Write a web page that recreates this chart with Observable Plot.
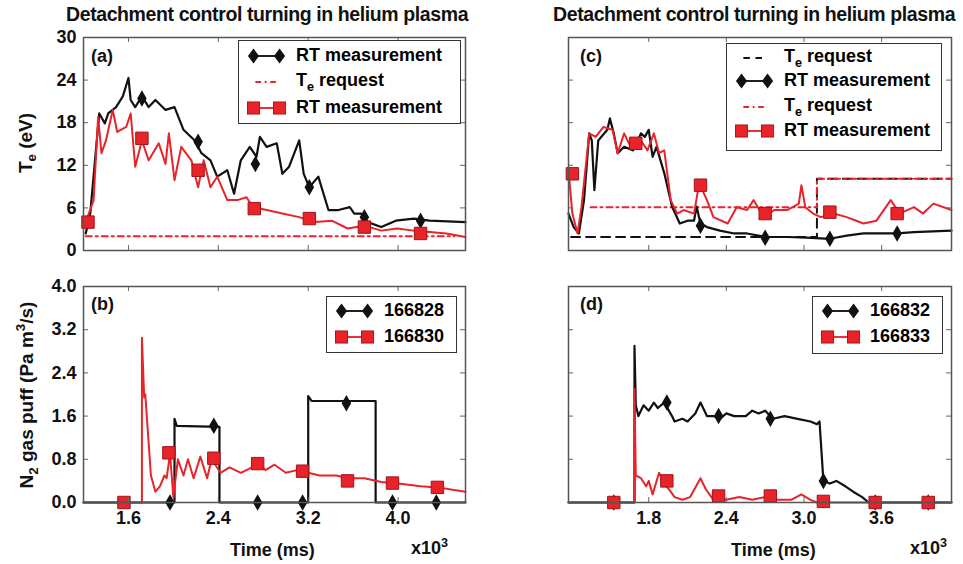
<!DOCTYPE html>
<html><head><meta charset="utf-8">
<script src="https://cdn.jsdelivr.net/npm/d3@7"></script>
<script src="https://cdn.jsdelivr.net/npm/@observablehq/plot@0.6"></script>
<style>
body{margin:0;background:#fff;font-family:"Liberation Sans",Arial,sans-serif;}
#wrap{position:relative;width:963px;height:564px;overflow:hidden;}
.abs{position:absolute;white-space:nowrap;font-weight:bold;color:#111;}
.ttl{font-size:19.5px;letter-spacing:-0.4px;}
.lab{font-size:18px;}
.leg{position:absolute;border:1.5px solid #333;background:#fff;}
.row{position:absolute;display:flex;align-items:center;font-weight:bold;font-size:18px;white-space:nowrap;}
sub,sup{font-size:70%;}
</style></head><body><div id="wrap"></div>
<script>
// ---------- data (time in 10^3 ms) ----------
const aBlack=[[1.22,2.4],[1.26,5.2],[1.34,19.3],[1.39,17.9],[1.42,19.3],[1.49,20.2],[1.55,21.7],[1.6,24.3],[1.62,21.2],[1.66,20.2],[1.72,21.7],[1.78,20.2],[1.84,21.2],[1.93,19.8],[2.01,20.2],[2.09,17.0],[2.19,15.5],[2.25,13.7],[2.33,12.7],[2.39,10.4],[2.48,11.3],[2.54,8.0],[2.6,12.7],[2.68,14.6],[2.74,13.2],[2.77,16.0],[2.83,14.6],[2.92,15.1],[2.97,10.8],[3.03,11.8],[3.12,15.5],[3.16,10.8],[3.21,8.9],[3.29,10.4],[3.38,5.7],[3.47,5.7],[3.57,6.1],[3.61,5.2],[3.67,5.2],[3.73,4.0],[3.85,3.3],[3.98,4.2],[4.14,4.5],[4.28,4.2],[4.6,4.0]];
const aRed=[[1.22,4.0],[1.29,7.1],[1.33,18.8],[1.36,13.7],[1.4,15.5],[1.46,19.8],[1.5,16.7],[1.58,17.4],[1.62,19.3],[1.66,11.8],[1.72,15.5],[1.78,12.7],[1.87,15.1],[1.93,12.2],[1.96,16.5],[2.01,9.9],[2.07,14.6],[2.16,12.7],[2.22,8.9],[2.27,12.7],[2.33,8.9],[2.39,10.4],[2.48,7.1],[2.57,7.1],[2.65,7.5],[2.71,6.1],[2.83,5.7],[2.97,5.2],[3.12,4.7],[3.26,4.0],[3.41,4.2],[3.55,3.1],[3.7,3.5],[3.85,2.8],[3.99,3.1],[4.14,2.8],[4.28,2.6],[4.43,2.4],[4.6,1.9]];
const aBlackMk=[[1.72,21.4],[2.22,15.3],[2.73,12.2],[3.21,8.9],[3.7,4.7],[4.2,4.2]];
const aRedMk=[[1.24,4.0],[1.72,15.8],[2.22,11.3],[2.72,5.9],[3.21,4.5],[3.7,3.3],[4.2,2.4]];
const aReq=[[1.22,2],[4.5,2]];

const bBlack=[[1.2,0],[2.01,0],[2.01,1.55],[2.03,1.42],[2.41,1.4],[2.41,0],[3.2,0],[3.2,1.97],[3.23,1.88],[3.8,1.88],[3.8,0],[4.6,0]];
const bRed=[[1.2,0],[1.72,0],[1.72,3.05],[1.74,1.95],[1.75,2.0],[1.8,0.5],[1.84,0.2],[1.88,0.3],[1.92,0.5],[1.94,0.45],[1.97,0.9],[2.0,0.1],[2.04,0.8],[2.09,0.5],[2.13,0.8],[2.18,0.45],[2.24,0.85],[2.3,0.45],[2.34,0.8],[2.42,0.55],[2.5,0.65],[2.6,0.55],[2.7,0.65],[2.75,0.75],[2.82,0.6],[2.9,0.7],[3.0,0.55],[3.1,0.6],[3.2,0.55],[3.3,0.5],[3.45,0.5],[3.55,0.45],[3.7,0.45],[3.85,0.38],[4.0,0.35],[4.2,0.3],[4.35,0.28],[4.6,0.2]];
const bBlackMk=[[1.97,0],[2.36,1.42],[2.75,0],[3.15,0],[3.54,1.84],[3.95,0],[4.34,0]];
const bRedMk=[[1.56,0],[1.96,0.92],[2.36,0.82],[2.75,0.72],[3.15,0.58],[3.55,0.4],[3.95,0.36],[4.35,0.28]];

const cBlack=[[1.18,5.2],[1.22,3.3],[1.26,2.4],[1.3,7.1],[1.34,16.5],[1.36,15.5],[1.38,8.5],[1.41,15.5],[1.48,17.0],[1.5,18.6],[1.53,16.5],[1.56,13.7],[1.61,14.6],[1.68,14.1],[1.74,16.5],[1.77,16.0],[1.8,17.0],[1.83,13.2],[1.86,14.6],[1.92,10.9],[1.98,6.2],[2.04,3.8],[2.1,4.2],[2.15,4.2],[2.17,6.2],[2.2,3.8],[2.25,3.3],[2.35,2.8],[2.46,2.4],[2.56,2.4],[2.71,1.9],[2.87,1.9],[3.02,1.8],[3.2,1.65],[3.33,2.1],[3.46,2.4],[3.72,2.4],[3.85,2.6],[4.14,2.8]];
const cRed=[[1.18,11.3],[1.21,5.2],[1.25,2.4],[1.28,6.1],[1.34,16.5],[1.39,16.0],[1.45,17.4],[1.52,17.0],[1.56,13.7],[1.61,16.5],[1.66,14.6],[1.74,15.5],[1.79,14.1],[1.84,16.5],[1.88,13.7],[1.92,14.1],[1.97,7.1],[2.02,5.2],[2.07,5.7],[2.15,5.2],[2.19,9.5],[2.25,7.1],[2.3,4.7],[2.41,3.8],[2.48,6.1],[2.56,5.7],[2.61,7.1],[2.69,4.7],[2.77,5.7],[2.87,5.7],[2.96,6.6],[2.98,9.2],[3.01,6.1],[3.07,5.2],[3.13,4.7],[3.23,5.2],[3.33,4.7],[3.46,3.8],[3.56,4.2],[3.67,7.1],[3.74,5.2],[3.85,6.1],[3.92,5.2],[4.0,6.6],[4.14,5.7]];
const cBlackMk=[[2.2,3.5],[2.7,1.8],[3.2,1.65],[3.72,2.4]];
const cRedMk=[[1.21,10.8],[1.7,15.1],[2.2,9.2],[2.7,5.2],[3.2,5.4],[3.72,5.2]];
const cReqBlack=[[1.2,1.9],[3.1,1.9],[3.1,10.1],[4.14,10.1]];
const cReqRed=[[1.35,6.1],[3.1,6.1],[3.1,10.1],[4.14,10.1]];

const dBlack=[[1.18,0],[1.69,0],[1.69,2.9],[1.7,1.8],[1.72,1.6],[1.76,1.8],[1.8,1.7],[1.84,1.85],[1.87,1.75],[1.92,1.85],[1.98,1.6],[2.0,1.5],[2.06,1.55],[2.1,1.5],[2.16,1.65],[2.2,1.85],[2.25,1.6],[2.3,1.6],[2.35,1.55],[2.4,1.65],[2.46,1.6],[2.55,1.6],[2.6,1.7],[2.65,1.65],[2.7,1.7],[2.76,1.55],[2.85,1.6],[2.95,1.55],[3.05,1.5],[3.1,1.45],[3.12,1.5],[3.15,0.4],[3.2,0.35],[3.25,0.4],[3.32,0.3],[3.38,0.2],[3.45,0.1],[3.5,0],[4.14,0]];
const dRed=[[1.18,0],[1.69,0],[1.69,2.1],[1.7,0.5],[1.74,0.45],[1.78,0.3],[1.8,0.4],[1.83,0.15],[1.88,0.55],[1.92,0.35],[1.97,0.2],[2.0,0.1],[2.06,0.05],[2.12,0.1],[2.2,0.45],[2.24,0.25],[2.3,0.05],[2.4,0.05],[2.5,0.1],[2.6,0.05],[2.7,0.1],[2.8,0.05],[2.9,0.05],[2.98,0.15],[3.05,0.05],[3.1,0],[4.14,0]];
const dBlackMk=[[1.53,0],[1.94,1.85],[2.34,1.6],[2.74,1.55],[3.15,0.4],[3.55,0],[3.96,0]];
const dRedMk=[[1.53,0],[1.94,0.4],[2.34,0.12],[2.74,0.12],[3.15,0.02],[3.55,0],[3.96,0]];

const xTicksL=[1.6,2.4,3.2,4.0], xTicksR=[1.8,2.4,3.0,3.6];
const yTicksTe=[0,6,12,18,24,30], yTicksN=[0,0.8,1.6,2.4,3.2,4.0];

const RED="#e8232a", REDD="#a0141a";
const wrap=document.getElementById("wrap");
function place(el,l,t){el.style.position="absolute";el.style.left=l+"px";el.style.top=t+"px";wrap.appendChild(el);}

function panel(o){
  const W=o.width,H=o.height, pw=W-o.ml-o.mr, ph=H-o.mt-o.mb;
  const marks=[];
  (o.req||[]).forEach(r=>marks.push(Plot.line(r.data,{x:"0",y:"1",stroke:r.color,strokeWidth:2,strokeDasharray:r.dash})));
  marks.push(Plot.line(o.black,{x:"0",y:"1",stroke:"#111",strokeWidth:2.2}));
  marks.push(Plot.line(o.red,{x:"0",y:"1",stroke:RED,strokeWidth:2}));
  marks.push(Plot.dot(o.blackMk,{x:"0",y:"1",symbol:"diamond",r:5,fill:"#111"}));
  marks.push(Plot.dot(o.redMk,{x:"0",y:"1",symbol:"square",r:7,fill:RED,stroke:REDD,strokeWidth:1}));
  const tk=5;
  marks.push(Plot.tickX(o.xt,{x:d=>d,stroke:"#666",insetTop:ph-tk}));
  marks.push(Plot.tickX(o.xt,{x:d=>d,stroke:"#666",insetBottom:ph-tk}));
  marks.push(Plot.tickY(o.yt,{y:d=>d,stroke:"#666",insetRight:pw-tk}));
  marks.push(Plot.tickY(o.yt,{y:d=>d,stroke:"#666",insetLeft:pw-tk}));
  if(o.showX) marks.push(Plot.axisX(o.xt,{tickSize:0,tickPadding:9,tickFormat:d3.format(".1f"),fontSize:18,fontWeight:"bold",label:null}));
  if(o.showY) marks.push(Plot.axisY(o.yt,{tickSize:0,tickPadding:7,tickFormat:o.yf,fontSize:18,fontWeight:"bold",label:null}));
  marks.push(Plot.frame({stroke:"#555",strokeWidth:1.5}));
  const p=Plot.plot({width:W,height:H,marginLeft:o.ml,marginRight:o.mr,marginTop:o.mt,marginBottom:o.mb,
    x:{domain:o.xd,axis:null},y:{domain:o.yd,axis:null},style:{background:"transparent",color:"#111",fontFamily:"Liberation Sans, Arial, sans-serif"},marks});
  place(p,o.left,o.top);
}

const yfTe=d3.format("d"), yfN=d3.format(".1f");
panel({left:0,top:0,width:480,height:260,ml:83,mr:15,mt:37,mb:10,xd:[1.2,4.6],yd:[0,30],xt:xTicksL,yt:yTicksTe,yf:yfTe,showY:true,
  black:aBlack,red:aRed,blackMk:aBlackMk,redMk:aRedMk,req:[{data:aReq,color:RED,dash:"6,4,2,4"}]});
panel({left:0,top:260,width:480,height:304,ml:83,mr:15,mt:26,mb:62,xd:[1.2,4.6],yd:[0,4],xt:xTicksL,yt:yTicksN,yf:yfN,showY:true,showX:true,
  black:bBlack,red:bRed,blackMk:bBlackMk,redMk:bRedMk});
panel({left:480,top:0,width:483,height:260,ml:88,mr:12,mt:37,mb:10,xd:[1.18,4.14],yd:[0,30],xt:xTicksR,yt:yTicksTe,
  black:cBlack,red:cRed,blackMk:cBlackMk,redMk:cRedMk,req:[{data:cReqBlack,color:"#111",dash:"9,6"},{data:cReqRed,color:RED,dash:"6,4,2,4"}]});
panel({left:480,top:260,width:483,height:304,ml:88,mr:12,mt:26,mb:62,xd:[1.18,4.14],yd:[0,4],xt:xTicksR,yt:yTicksN,showX:true,
  black:dBlack,red:dRed,blackMk:dBlackMk,redMk:dRedMk});

// ---------- text ----------
function txt(html,cls,l,t,extra){const e=document.createElement("div");e.className="abs "+cls;e.innerHTML=html;if(extra)Object.assign(e.style,extra);place(e,l,t);return e;}
txt("Detachment control turning in helium plasma","ttl",66,3);
txt("Detachment control turning in helium plasma","ttl",553,3);
txt("(a)","lab",91,46);txt("(b)","lab",91,294);txt("(c)","lab",580,46);txt("(d)","lab",580,294);
txt("Time (ms)","lab",230,540);txt("Time (ms)","lab",731,540);
txt("x10<sup>3</sup>","lab",411,536);txt("x10<sup>3</sup>","lab",910,536);
txt("T<sub>e</sub> (eV)","lab",27,143,{transform:"translate(-50%,-50%) rotate(-90deg)",fontSize:"19px"});
txt("N<sub>2</sub> gas puff (Pa m<sup>3</sup>/s)","lab",27,395,{transform:"translate(-50%,-50%) rotate(-90deg)",fontSize:"19px"});

// ---------- legends ----------
function sym(kind){
  const s=(kind==="bl")?`<line x1="4" y1="9" x2="32" y2="9" stroke="#111" stroke-width="2"/><path d="M4 1L10 9L4 17L-2 9Z" fill="#111"/><path d="M32 1L38 9L32 17L26 9Z" fill="#111"/>`
   :(kind==="rd")?`<line x1="4" y1="9" x2="32" y2="9" stroke="${RED}" stroke-width="2"/><rect x="-2.5" y="2.5" width="13" height="13" fill="${RED}" stroke="${REDD}"/><rect x="25.5" y="2.5" width="13" height="13" fill="${RED}" stroke="${REDD}"/>`
   :(kind==="rq")?`<line x1="6" y1="9" x2="32" y2="9" stroke="${RED}" stroke-width="2" stroke-dasharray="6,4,2,4"/>`
   :`<line x1="6" y1="9" x2="32" y2="9" stroke="#111" stroke-width="2.2" stroke-dasharray="7,6"/>`;
  return `<svg width="40" height="18" viewBox="-3 0 43 18" style="margin-right:9px;overflow:visible">${s}</svg>`;
}
function legend(l,t,w,h,rows,rowY){
  const b=document.createElement("div");b.className="leg";b.style.width=w+"px";b.style.height=h+"px";place(b,l,t);
  rows.forEach((r,i)=>{const e=document.createElement("div");e.className="row";e.innerHTML=sym(r[0])+"<span>"+r[1]+"</span>";e.style.left="8px";e.style.top=(rowY[i]-11)+"px";b.appendChild(e);});
}
const TE="T<sub>e</sub>&nbsp;request";
legend(238,40,221,82,[["bl","RT measurement"],["rq",TE],["rd","RT measurement"]],[15,40,67]);
legend(726,43,214,106,[["bk",TE],["bl","RT measurement"],["rq",TE],["rd","RT measurement"]],[13,37,62,87]);
legend(326,296,129,55,[["bl","166828"],["rd","166830"]],[14,40]);
legend(812,296,129,56,[["bl","166832"],["rd","166833"]],[14,40]);
</script></body></html>
